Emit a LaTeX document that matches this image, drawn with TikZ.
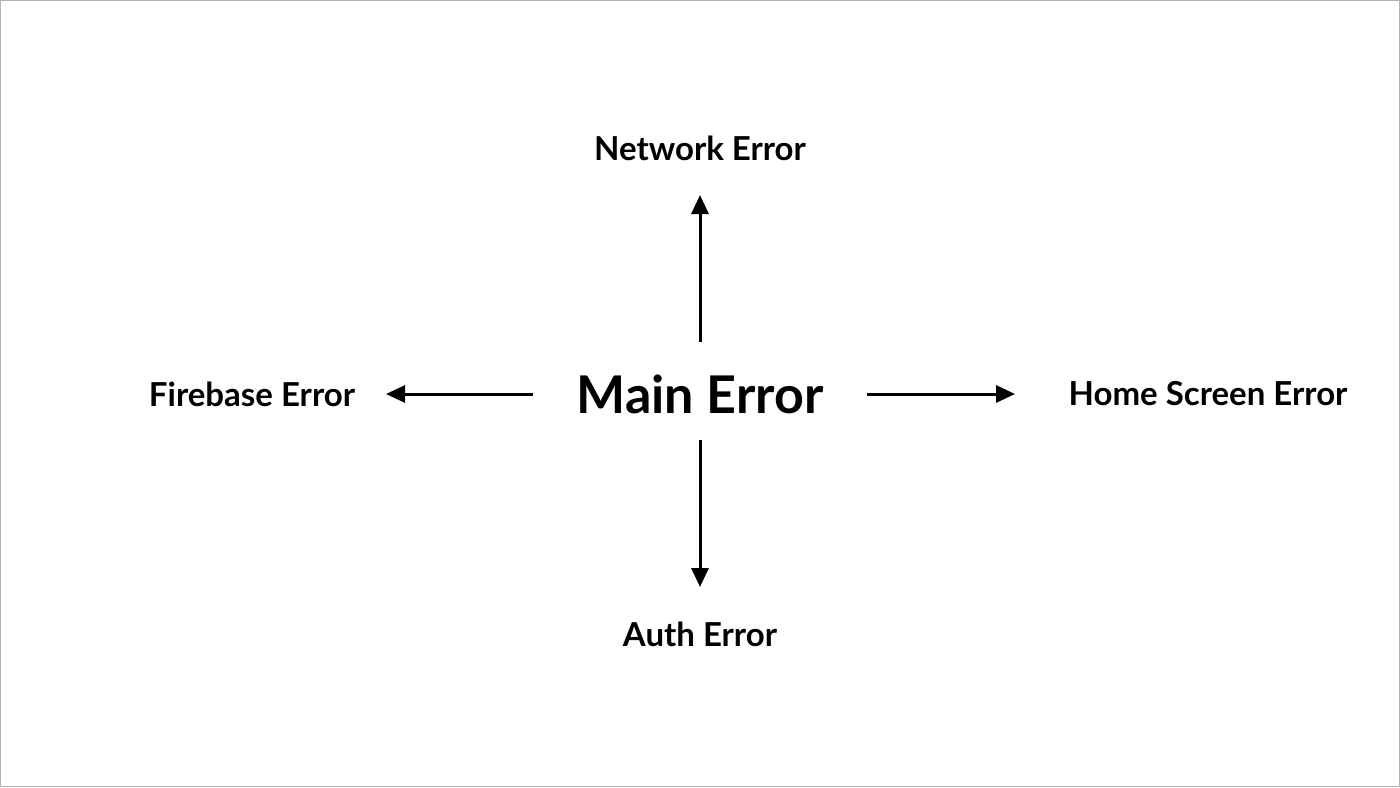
\documentclass[tikz,border=0pt]{standalone}
\usepackage{fontspec}
\setmainfont{Lato}
\usetikzlibrary{arrows.meta}
\begin{document}
\begin{tikzpicture}[x=1pt,y=-1pt,
  lbl/.style={font=\fontsize{33}{36}\selectfont\bfseries,inner sep=0},
  arr/.style={line width=3pt,-{Triangle[length=19pt,width=17pt]}}]
\draw[gray!60,line width=1pt,fill=white] (0.5,0.5) rectangle (1399.5,786.5);
\useasboundingbox (0,0) rectangle (1400,787);
\node[font=\fontsize{52}{56}\selectfont\bfseries,inner sep=0] (m) at (700,394) {Main Error};
\node[lbl] (n) at (700,148) {Network Error};
\node[lbl] (f) at (252,394) {Firebase Error};
\node[lbl] (h) at (1208,394) {Home Screen Error};
\node[lbl] (a) at (700,634) {Auth Error};
\coordinate (mt) at (700,342); \coordinate (nt) at (700,195);
\coordinate (mb) at (700,440); \coordinate (ab) at (700,587);
\coordinate (ml) at (533,394); \coordinate (fl) at (386,394);
\coordinate (mr) at (867,394); \coordinate (hr) at (1015,394);
\draw[arr] (mt) -- (nt);
\draw[arr] (mb) -- (ab);
\draw[arr] (ml) -- (fl);
\draw[arr] (mr) -- (hr);
\end{tikzpicture}
\end{document}
